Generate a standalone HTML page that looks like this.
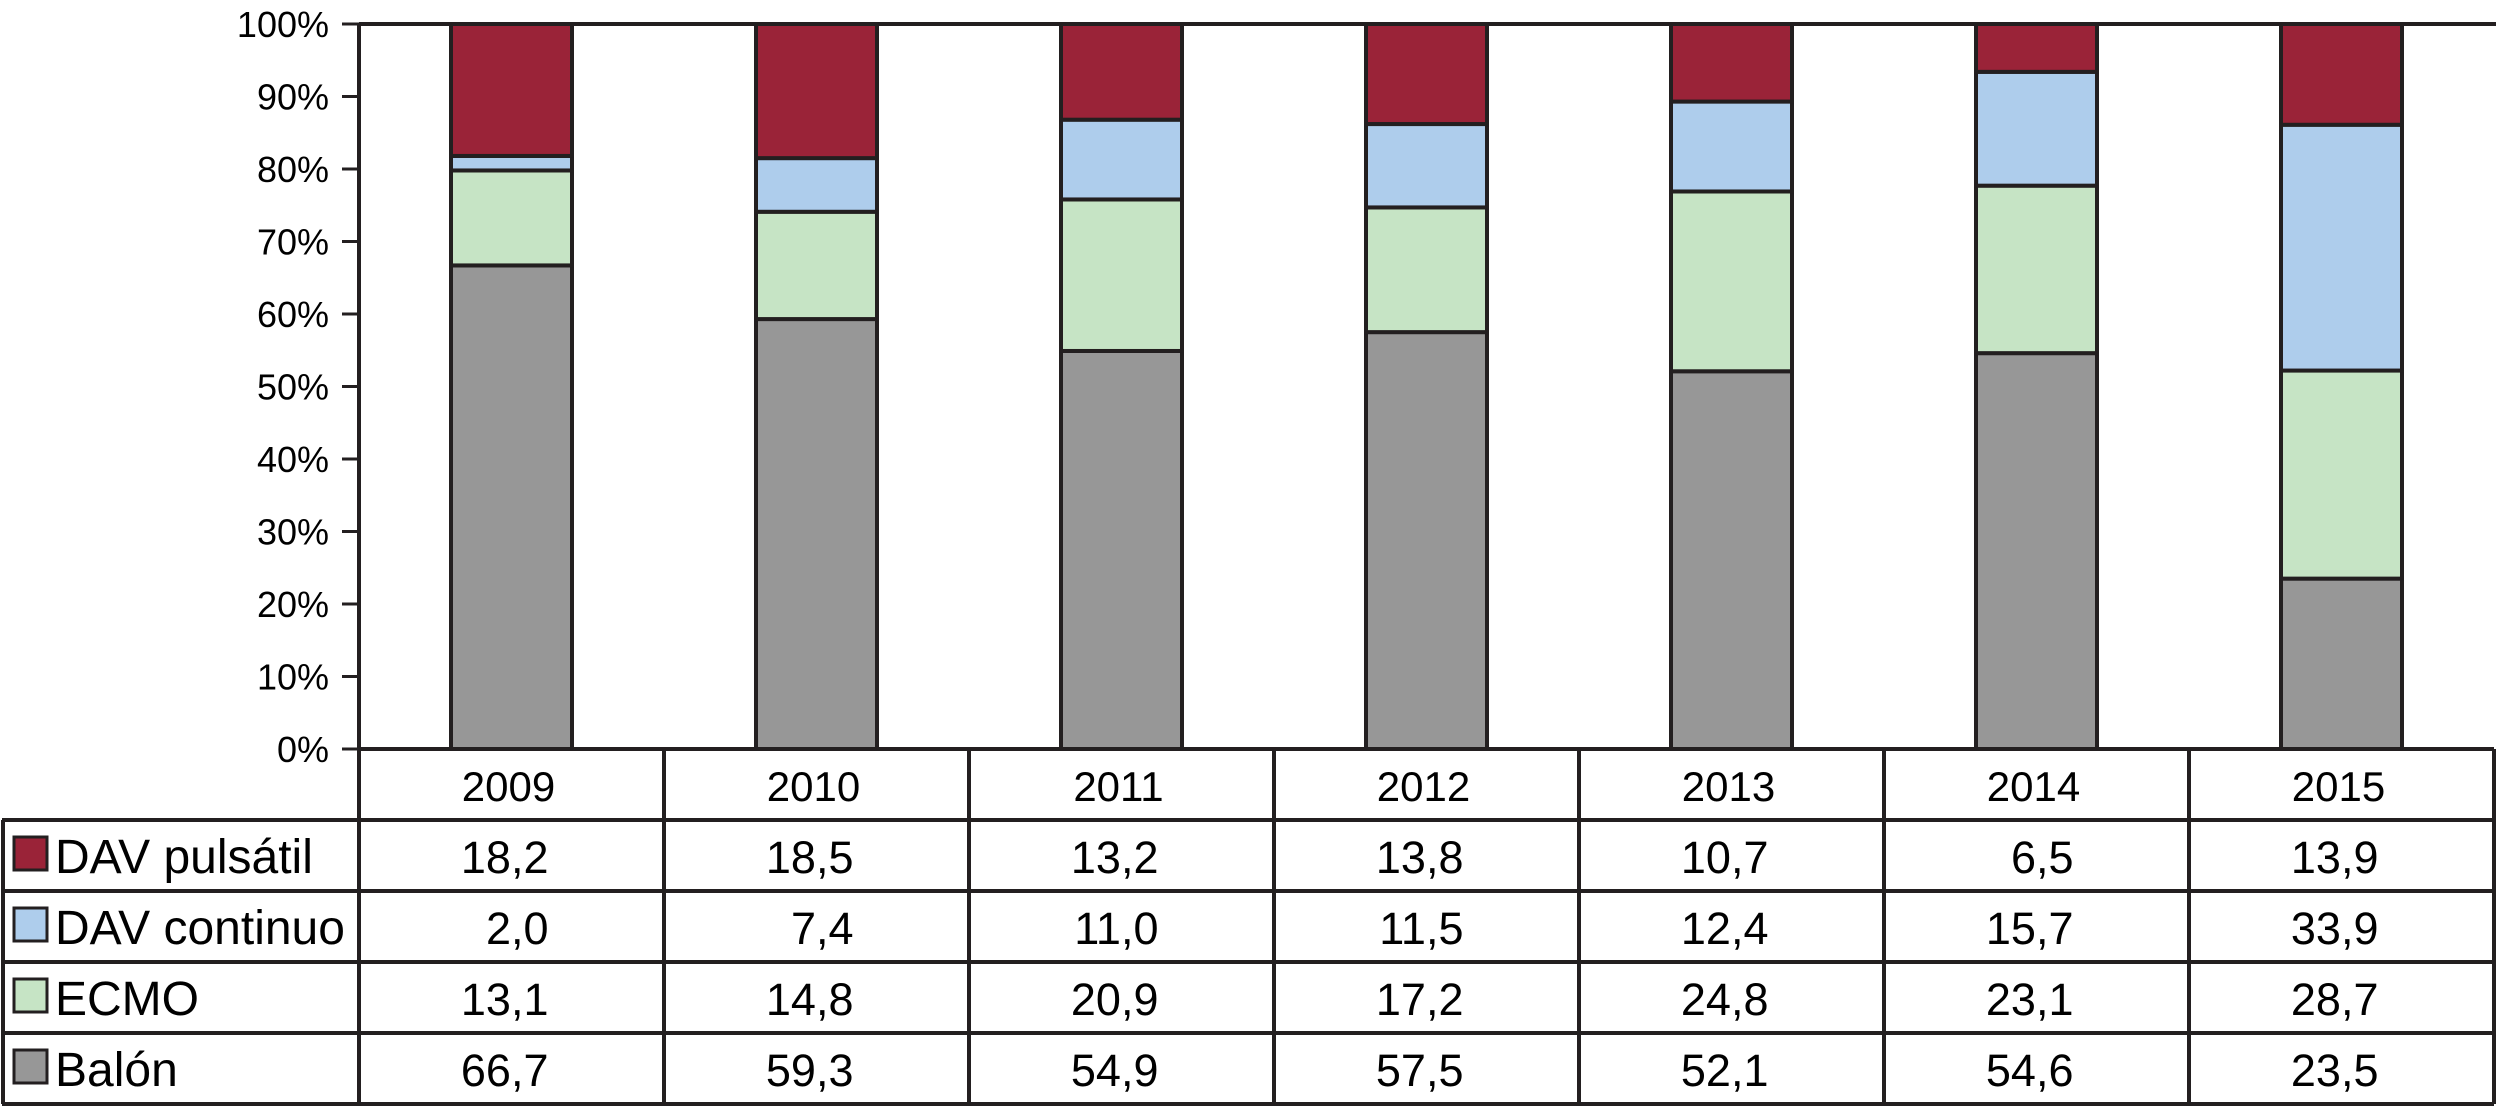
<!DOCTYPE html>
<html><head><meta charset="utf-8"><style>
html,body{margin:0;padding:0;background:#fff;}
svg{display:block;font-family:"Liberation Sans",Arial,sans-serif;}
</style></head><body>
<svg id="chart" width="2496" height="1106" viewBox="0 0 2496 1106" xmlns="http://www.w3.org/2000/svg"></svg>
<script>
const categories = ["2009","2010","2011","2012","2013","2014","2015"];
const seriesNames = ["DAV pulsátil","DAV continuo","ECMO","Balón"];
const pulsatil = [18.2,18.5,13.2,13.8,10.7,6.5,13.9];
const continuo = [2.0,7.4,11.0,11.5,12.4,15.7,33.9];
const ecmo = [13.1,14.8,20.9,17.2,24.8,23.1,28.7];
const balon = [66.7,59.3,54.9,57.5,52.1,54.6,23.5];
const tickLabels = ["0%","10%","20%","30%","40%","50%","60%","70%","80%","90%","100%"];
const tickValues = [0,10,20,30,40,50,60,70,80,90,100];

const colors = ["#9a2338","#aecdec","#c6e4c5","#979797"];
const svg = document.getElementById('chart');
const NS = "http://www.w3.org/2000/svg";
const X0 = 359, X1 = 2494, Y0 = 749, Y1 = 24;
const colW = (X1 - X0) / categories.length;
const barW = 121;
const y = v => Y0 - (v / 100) * (Y0 - Y1);
const xc = i => X0 + colW * (i + 0.5);
function mk(tag, attrs){ const e=document.createElementNS(NS,tag); for(const k in attrs) e.setAttribute(k,attrs[k]); svg.appendChild(e); return e; }

const stackOrder = [balon, ecmo, continuo, pulsatil];
const stackColors = [colors[3], colors[2], colors[1], colors[0]];
const stackNames = ["balon","ecmo","dav-continuo","dav-pulsatil"];
categories.forEach((c, i) => {
  let cum = 0;
  stackOrder.forEach((arr, s) => {
    const v = arr[i];
    let top = cum + v;
    if (s === stackOrder.length - 1) top = Math.max(top, 100);
    const r = mk('rect', {x: xc(i) - barW/2, y: y(Math.min(top,100)), width: barW, height: y(cum) - y(Math.min(top,100)), fill: stackColors[s], stroke: "#231f20", "stroke-width": 4});
    
    
    cum += v;
  });
});

const ax = mk('line', {x1: X0, y1: Y1, x2: X0, y2: Y0, stroke: "#231f20", "stroke-width": 4});


const topLine = mk('line', {x1: X0, y1: Y1, x2: X1 + 2, y2: Y1, stroke: "#231f20", "stroke-width": 4});


tickValues.forEach((tv, k) => {
  const t = mk('line', {x1: 342, y1: y(tv), x2: X0, y2: y(tv), stroke: "#231f20", "stroke-width": 3});
  
  
  const tx = mk('text', {x: 329, y: y(tv) + 13, "text-anchor": "end", "font-size": 36, fill: "#000"});
  tx.textContent = tickLabels[k];
  
  
});

const rowLines = [749, 820, 891, 962, 1033, 1104];
rowLines.forEach((ry, k) => {
  const l = mk('line', {x1: k === 0 ? X0 : 2, y1: ry, x2: X1, y2: ry, stroke: "#231f20", "stroke-width": 4});
  
  
});
const leftEdge = mk('line', {x1: 3, y1: 820, x2: 3, y2: 1104, stroke: "#231f20", "stroke-width": 4});


for (let i = 0; i <= categories.length; i++) {
  const vx = X0 + colW * i;
  const l = mk('line', {x1: vx, y1: Y0, x2: vx, y2: 1104, stroke: "#231f20", "stroke-width": 4});
  
  
}
categories.forEach((c, i) => {
  const t = mk('text', {x: xc(i) - 3, y: 801, "text-anchor": "middle", "font-size": 42, fill: "#000"});
  t.textContent = c;
  
  
});
const tableSeries = [pulsatil, continuo, ecmo, balon];
const fmt = v => v.toFixed(1).replace('.', ',');
tableSeries.forEach((arr, r) => {
  const top = rowLines[r + 1];
  const sw = mk('rect', {x: 14, y: top + 17, width: 33, height: 33, fill: colors[r], stroke: "#231f20", "stroke-width": 3});
  
  
  const lab = mk('text', {x: 55, y: top + 53, "font-size": 48, fill: "#000"});
  lab.textContent = seriesNames[r];
  
  
  arr.forEach((v, i) => {
    const t = mk('text', {x: xc(i) + 37, y: top + 53, "text-anchor": "end", "font-size": 45, fill: "#000"});
    t.textContent = fmt(v);
    
    
  });
});
</script>
</body></html>
